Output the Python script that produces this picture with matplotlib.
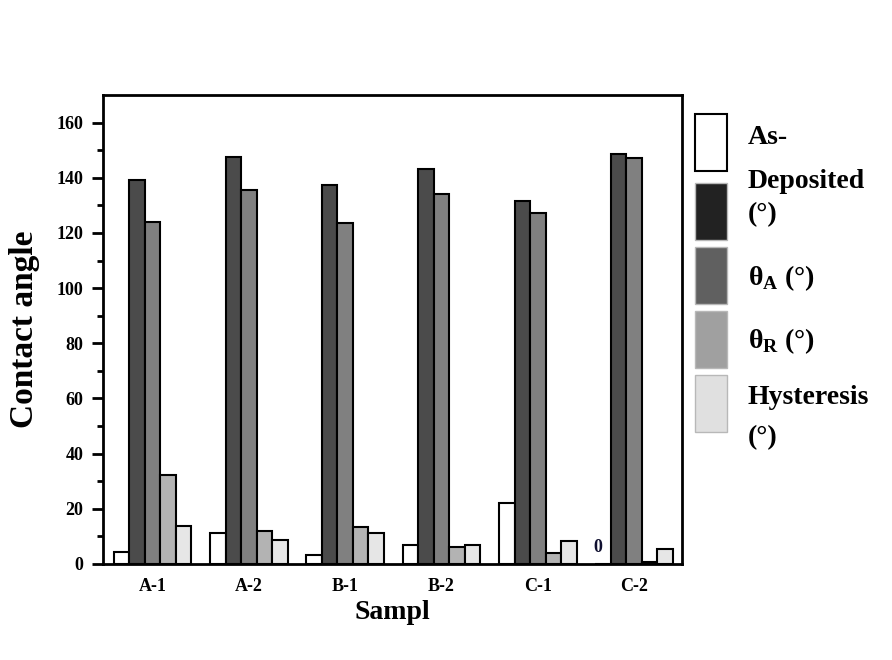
import numpy as np
import matplotlib
matplotlib.use('Agg')
import matplotlib.pyplot as plt
from matplotlib.patches import Rectangle

plt.rcParams['font.family'] = ['Liberation Serif', 'DejaVu Serif']
plt.rcParams['font.weight'] = 'bold'
plt.rcParams['mathtext.fontset'] = 'custom'
plt.rcParams['mathtext.bf'] = 'Liberation Serif:bold'
plt.rcParams['mathtext.rm'] = 'Liberation Serif:bold'

# contact angle data per sample
samples = ['A-1', 'A-2', 'B-1', 'B-2', 'C-1', 'C-2']
as_deposited = [4.2, 11.1, 3.3, 7.0, 22.1, 0]
static_angle = [139.3, 147.7, 137.4, 143.1, 131.5, 148.6]
theta_a = [124.0, 135.5, 123.6, 134.1, 127.3, 147.3]
theta_r = [32.4, 11.8, 13.5, 6.0, 4.0, 0.8]
hysteresis = [13.9, 8.7, 11.1, 7.0, 8.5, 5.4]

series = [as_deposited, static_angle, theta_a, theta_r, hysteresis]
bar_colors = ['#ffffff', '#4b4b4b', '#808080', '#b3b3b3', '#e6e6e6']
key_colors = ['#ffffff', '#222222', '#606060', '#a0a0a0', '#e0e0e0']

fig = plt.figure(figsize=(8.92, 6.6), dpi=100)
ax = fig.add_axes([0.1155, 0.1455, 0.649, 0.7105])

x = np.arange(len(samples))
w = 0.161
for i, (vals, col) in enumerate(zip(series, bar_colors)):
    ax.bar(x + (i - 2) * w, vals, w, color=col, edgecolor='black', linewidth=1.5)

# label the zero-height bar
ax.annotate('0', (x[5] - 2 * w, as_deposited[5]), xytext=(-4, 12),
            textcoords='offset points', ha='center', va='center',
            fontsize=13, fontweight='bold', color='#101030')

ax.set_xlim(-0.515, 5.497)
ax.set_ylim(0, 170)
ax.set_xticks(x)
ax.set_xticklabels(samples, fontsize=13, fontweight='bold')
ax.tick_params(axis='x', length=0, pad=10)
ax.set_yticks(np.arange(0, 161, 20))
ax.set_yticks(np.arange(10, 161, 20), minor=True)
ax.tick_params(axis='y', which='major', length=8, width=2, labelsize=13, pad=6)
ax.tick_params(axis='y', which='minor', length=4, width=2)
for s in ax.spines.values():
    s.set_linewidth(2)

ax.set_ylabel('Contact angle', fontsize=24, fontweight='bold', labelpad=12)
ax.set_xlabel('Sampl', fontsize=20, fontweight='bold', labelpad=4)

# key drawn beside the axes
tops = [114, 183, 247, 311, 375]
for top, col in zip(tops, key_colors):
    edge = 'black' if col == '#ffffff' else '#b8b8b8'
    lw = 1.5 if col == '#ffffff' else 1.0
    fig.patches.append(Rectangle((695 / 892, 1 - (top + 57) / 660), 32 / 892, 57 / 660,
                                 transform=fig.transFigure, facecolor=col,
                                 edgecolor=edge, linewidth=lw))

lines = [('As-', 138), ('Deposited', 182), ('(°)', 215),
         (r'$\mathbf{θ}_{\mathbf{A}}$ (°)', 278), (r'$\mathbf{θ}_{\mathbf{R}}$ (°)', 341),
         ('Hysteresis', 397), ('(°)', 438)]
for txt, yp in lines:
    fig.text(748 / 892, 1 - yp / 660, txt, fontsize=20, fontweight='bold',
             ha='left', va='center')

fig.savefig('out.png', dpi=100)
